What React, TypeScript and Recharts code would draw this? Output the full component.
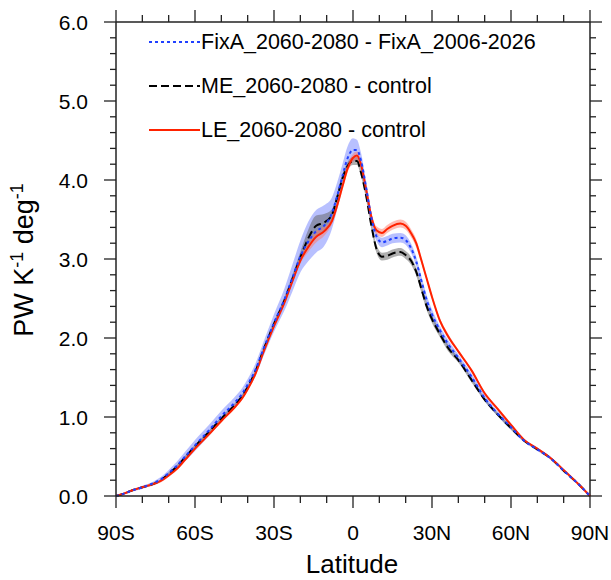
import { ComposedChart, Area, Line, XAxis, YAxis, ReferenceLine } from "recharts"

// latitude (deg), negative = south
const lat = [-90, -87, -84, -80, -76, -73, -70, -67, -64, -60, -55, -50, -45, -42, -40, -37, -34, -30, -26, -23, -20, -17, -14, -11, -8, -6, -4, -2, 0, 1.5, 3, 5, 7, 9, 11, 13, 15, 18, 20, 22, 24, 26, 28, 30, 33, 36, 40, 45, 50, 55, 60, 65, 70, 75, 80, 85, 90]

// LE_2060-2080 - control (red)
const leMean = [0, 0.03, 0.07, 0.11, 0.15, 0.19, 0.26, 0.34, 0.45, 0.60, 0.77, 0.95, 1.12, 1.24, 1.35, 1.55, 1.82, 2.15, 2.45, 2.72, 2.98, 3.15, 3.28, 3.35, 3.48, 3.68, 3.92, 4.15, 4.28, 4.31, 4.20, 3.88, 3.53, 3.36, 3.33, 3.38, 3.42, 3.45, 3.42, 3.33, 3.20, 2.98, 2.75, 2.52, 2.22, 2.03, 1.83, 1.59, 1.30, 1.10, 0.90, 0.71, 0.60, 0.48, 0.33, 0.17, 0]
const leSpread = [0, 0.01, 0.01, 0.01, 0.02, 0.02, 0.02, 0.02, 0.02, 0.02, 0.02, 0.02, 0.02, 0.02, 0.02, 0.02, 0.02, 0.02, 0.03, 0.03, 0.04, 0.06, 0.07, 0.06, 0.04, 0.05, 0.05, 0.05, 0.05, 0.05, 0.05, 0.05, 0.05, 0.05, 0.05, 0.05, 0.05, 0.05, 0.05, 0.05, 0.05, 0.04, 0.03, 0.03, 0.03, 0.03, 0.02, 0.02, 0.02, 0.02, 0.02, 0.01, 0.01, 0.01, 0.01, 0.01, 0]

// ME_2060-2080 - control (black)
const meMean = [0, 0.03, 0.07, 0.11, 0.15, 0.20, 0.28, 0.37, 0.48, 0.63, 0.80, 0.98, 1.15, 1.27, 1.38, 1.58, 1.85, 2.18, 2.48, 2.75, 3.02, 3.26, 3.42, 3.46, 3.56, 3.78, 4.02, 4.18, 4.24, 4.24, 4.10, 3.80, 3.42, 3.12, 3.03, 3.04, 3.07, 3.09, 3.05, 2.98, 2.84, 2.62, 2.40, 2.24, 2.05, 1.88, 1.72, 1.47, 1.22, 1.03, 0.86, 0.70, 0.59, 0.48, 0.32, 0.17, 0]
const meSpread = [0, 0.01, 0.01, 0.01, 0.01, 0.01, 0.02, 0.02, 0.02, 0.02, 0.02, 0.02, 0.02, 0.02, 0.02, 0.02, 0.03, 0.03, 0.04, 0.05, 0.07, 0.11, 0.13, 0.11, 0.07, 0.05, 0.05, 0.05, 0.05, 0.05, 0.05, 0.05, 0.05, 0.05, 0.05, 0.05, 0.05, 0.05, 0.05, 0.05, 0.05, 0.05, 0.05, 0.05, 0.04, 0.04, 0.03, 0.03, 0.02, 0.02, 0.02, 0.01, 0.01, 0.01, 0.01, 0.01, 0]

// FixA_2060-2080 - FixA_2006-2026 (blue)
const fixMean = [0, 0.03, 0.07, 0.11, 0.16, 0.21, 0.29, 0.38, 0.49, 0.64, 0.82, 1.01, 1.18, 1.30, 1.41, 1.60, 1.86, 2.19, 2.49, 2.76, 3.03, 3.22, 3.35, 3.42, 3.58, 3.80, 4.05, 4.28, 4.38, 4.38, 4.25, 3.90, 3.52, 3.28, 3.21, 3.23, 3.26, 3.27, 3.24, 3.14, 2.97, 2.72, 2.48, 2.30, 2.10, 1.93, 1.75, 1.51, 1.24, 1.04, 0.87, 0.70, 0.59, 0.48, 0.32, 0.17, 0]
const fixSpread = [0, 0.01, 0.01, 0.02, 0.02, 0.03, 0.04, 0.05, 0.06, 0.07, 0.07, 0.07, 0.07, 0.07, 0.07, 0.08, 0.09, 0.11, 0.14, 0.17, 0.20, 0.25, 0.27, 0.26, 0.20, 0.17, 0.15, 0.15, 0.15, 0.13, 0.10, 0.08, 0.07, 0.06, 0.06, 0.06, 0.06, 0.06, 0.06, 0.06, 0.06, 0.06, 0.06, 0.06, 0.05, 0.05, 0.04, 0.04, 0.04, 0.03, 0.03, 0.02, 0.02, 0.02, 0.01, 0.01, 0]

const xTicks = [-90, -80, -70, -60, -50, -40, -30, -20, -10, 0, 10, 20, 30, 40, 50, 60, 70, 80, 90]
const xMajor = [-90, -60, -30, 0, 30, 60, 90]
const xLabels = ["90S", "60S", "30S", "0", "30N", "60N", "90N"]
const yTicks = [0, 0.2, 0.4, 0.6, 0.8, 1, 1.2, 1.4, 1.6, 1.8, 2, 2.2, 2.4, 2.6, 2.8, 3, 3.2, 3.4, 3.6, 3.8, 4, 4.2, 4.4, 4.6, 4.8, 5, 5.2, 5.4, 5.6, 5.8, 6]
const yMajor = [0, 1, 2, 3, 4, 5, 6]

const data = lat.map((l, i) => ({
  lat: l,
  le: leMean[i],
  me: meMean[i],
  fix: fixMean[i],
  leBand: [leMean[i] - leSpread[i], leMean[i] + leSpread[i]],
  meBand: [meMean[i] - meSpread[i], meMean[i] + meSpread[i]],
  fixBand: [fixMean[i] - fixSpread[i], fixMean[i] + fixSpread[i]],
}))

const W = 611
const H = 580
const margin = { top: 22, right: 21, left: 0, bottom: 0 }
const PLOT_TOP = margin.top
const PLOT_RIGHT = W - margin.right
const FONT = '"Liberation Sans", Arial, Helvetica, sans-serif'
const AXIS = "#222"

function XTick(props: any) {
  const { x, y, payload } = props
  const idx = xMajor.indexOf(payload.value)
  const len = idx >= 0 ? 12 : 7
  return (
    <g>
      <line x1={x} x2={x} y1={y} y2={y + len} stroke={AXIS} strokeWidth={1.3} />
      <line x1={x} x2={x} y1={PLOT_TOP} y2={PLOT_TOP - len} stroke={AXIS} strokeWidth={1.3} />
      {idx >= 0 && (
        <text x={x} y={y + 44} textAnchor="middle" fontSize={21} fontFamily={FONT} fill="#000">
          {xLabels[idx]}
        </text>
      )}
    </g>
  )
}

function YTick(props: any) {
  const { x, y, payload } = props
  const major = yMajor.includes(payload.value)
  const len = major ? 12 : 6
  return (
    <g>
      <line x1={x} x2={x - len} y1={y} y2={y} stroke={AXIS} strokeWidth={1.3} />
      <line x1={PLOT_RIGHT} x2={PLOT_RIGHT + len} y1={y} y2={y} stroke={AXIS} strokeWidth={1.3} />
      {major && (
        <text x={x - 28} y={y + 7.5} textAnchor="end" fontSize={21} fontFamily={FONT} fill="#000">
          {payload.value.toFixed(1)}
        </text>
      )}
    </g>
  )
}

export default function App() {
  return (
    <div style={{ position: "absolute", left: 0, top: 0, width: W, height: H, background: "#fff" }}>
      <ComposedChart width={W} height={H} data={data} margin={margin}>
        <XAxis
          dataKey="lat"
          type="number"
          domain={[-90, 90]}
          ticks={xTicks}
          interval={0}
          tickSize={0}
          tickMargin={0}
          height={84}
          axisLine={{ stroke: AXIS, strokeWidth: 1.5 }}
          tickLine={false}
          tick={<XTick />}
        />
        <YAxis
          type="number"
          domain={[0, 6]}
          ticks={yTicks}
          interval={0}
          tickSize={0}
          tickMargin={0}
          width={116}
          axisLine={{ stroke: AXIS, strokeWidth: 1.5 }}
          tickLine={false}
          tick={<YTick />}
        />
        <ReferenceLine y={6} stroke={AXIS} strokeWidth={1.5} />
        <ReferenceLine x={90} stroke={AXIS} strokeWidth={1.5} />
        <Area dataKey="fixBand" type="monotone" stroke="none" fill="#7d8cff" fillOpacity={0.55} isAnimationActive={false} />
        <Area dataKey="meBand" type="monotone" stroke="none" fill="#606060" fillOpacity={0.5} isAnimationActive={false} />
        <Area dataKey="leBand" type="monotone" stroke="none" fill="#ff7a6a" fillOpacity={0.5} isAnimationActive={false} />
        <Line dataKey="me" type="monotone" stroke="#000" strokeWidth={2} strokeDasharray="8 4" dot={false} isAnimationActive={false} />
        <Line dataKey="le" type="monotone" stroke="#ff2200" strokeWidth={2} dot={false} isAnimationActive={false} />
        <Line dataKey="fix" type="monotone" stroke="#2040ff" strokeWidth={2} strokeDasharray="3 3" dot={false} isAnimationActive={false} />
      </ComposedChart>
      <svg width={W} height={H} style={{ position: "absolute", left: 0, top: 0, pointerEvents: "none" }} fontFamily={FONT}>
        <line x1={149} x2={200} y1={42} y2={42} stroke="#2040ff" strokeWidth={2} strokeDasharray="3 3" />
        <text x={201} y={48.5} fontSize={21.5} fill="#000">FixA_2060-2080 - FixA_2006-2026</text>
        <line x1={149} x2={200} y1={86} y2={86} stroke="#000" strokeWidth={2} strokeDasharray="8 4" />
        <text x={201} y={92.5} fontSize={21.5} fill="#000">ME_2060-2080 - control</text>
        <line x1={149} x2={200} y1={130} y2={130} stroke="#ff2200" strokeWidth={2} />
        <text x={201} y={136.5} fontSize={21.5} fill="#000">LE_2060-2080 - control</text>
        <text x={33} y={260} fontSize={27} textAnchor="middle" fill="#000" transform="rotate(-90, 33, 260)">
          PW K<tspan dy={-10} fontSize={18}>-1</tspan>
          <tspan dy={10}> deg</tspan>
          <tspan dy={-10} fontSize={18}>-1</tspan>
        </text>
        <text x={352} y={573} fontSize={26} textAnchor="middle" fill="#000">Latitude</text>
      </svg>
    </div>
  )
}
